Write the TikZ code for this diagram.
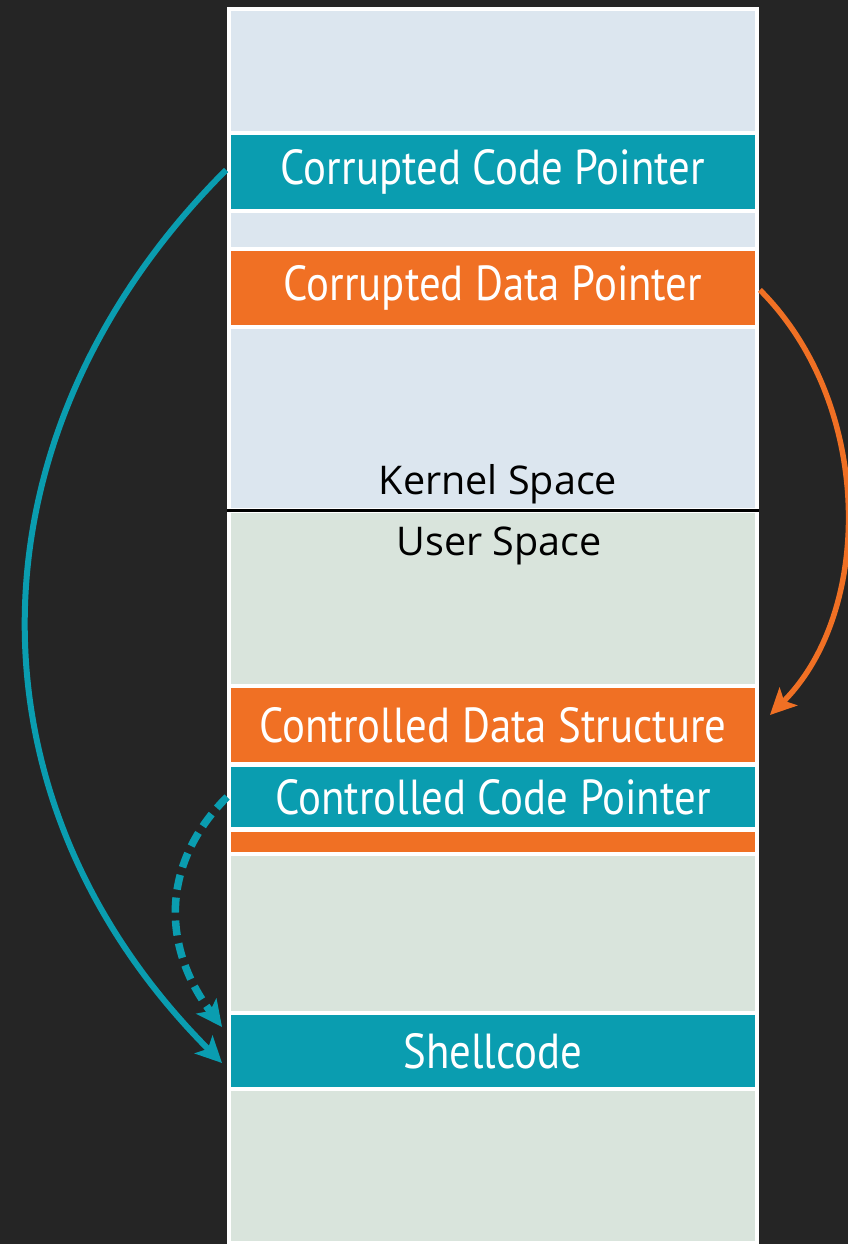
\documentclass[tikz,border=0pt]{standalone}
\usepackage{fontspec}
\setmainfont{Open Sans}
\newfontfamily\bandfont[FakeStretch=0.87]{PT Sans}
\usepackage{xcolor}
\usepackage{tikz}
\usetikzlibrary{arrows.meta,positioning,calc}

\definecolor{bgdark}{HTML}{252525}
\definecolor{kernelbg}{HTML}{DCE6EF}
\definecolor{userbg}{HTML}{D9E4DC}
\definecolor{tealc}{HTML}{0A9DB0}
\definecolor{orangec}{HTML}{F07024}

\begin{document}
\begin{tikzpicture}[
  x=0.02cm, y=-0.02cm,
  >={Stealth[length=0.52cm, width=0.5cm, inset=0.12cm]},
  % Styles
  band/.style={draw=white, line width=0.08cm, minimum width=10.56cm,
               minimum height=1.56cm, inner sep=0pt, outer sep=0pt,
               font=\bandfont\fontsize{28}{30}\selectfont, text=white},
  spacelbl/.style={font=\fontsize{22.5}{26}\selectfont, text=black, anchor=base},
  jump/.style={->, line width=0.12cm},
  node distance=0.1cm
]
\useasboundingbox (0,0) rectangle (848,1244);

% --- 0. Canvas and memory column ---
\fill[bgdark] (0,0) rectangle (848,1244);
\fill[white] (227,7) rectangle (759,1244);
\fill[kernelbg] (231,11) rectangle (755,508);
\fill[userbg] (231,513) rectangle (755,1241);
\draw[black, line width=0.06cm] (227,510) -- (759,510);

% --- 1. Kernel Space ---
\node[band, fill=tealc] (ccp) at (493,172) {Corrupted Code Pointer};
\node[band, fill=orangec] (cdp) at (493,288) {Corrupted Data Pointer};
\node[spacelbl] (klabel) at (498,494) {Kernel Space};

% --- 2. User Space ---
\node[spacelbl] (ulabel) at (499,555) {User Space};
\node[band, fill=orangec] (cds) at (493,725) {Controlled Data Structure};
\node[band, fill=tealc, minimum height=1.28cm] (ctp) at (493,797) {Controlled Code Pointer};
\node[band, fill=orangec, minimum height=0.48cm] (pad) at (493,842) {};
\node[band, fill=tealc, minimum height=1.52cm] (shell) at (493,1051) {Shellcode};

% --- 3. Control flow ---
\draw[jump, tealc] ($(ccp.west)+(-3,-2)$) .. controls +(-263,263) and +(-264,-265)
  .. ($(shell.west)+(-7,12)$);
\draw[jump, orangec, line width=0.11cm] ($(cdp.east)+(3,2)$) .. controls +(114,114) and +(104,-104)
  .. ($(cds.east)+(13,-10)$);
\draw[jump, tealc, line width=0.15cm, dash pattern=on 0.3cm off 0.16cm]
  ($(ctp.west)+(-2,0)$) .. controls +(-66,66) and +(-61,-81) .. ($(shell.north west)+(-7,14)$);

\end{tikzpicture}
\end{document}
